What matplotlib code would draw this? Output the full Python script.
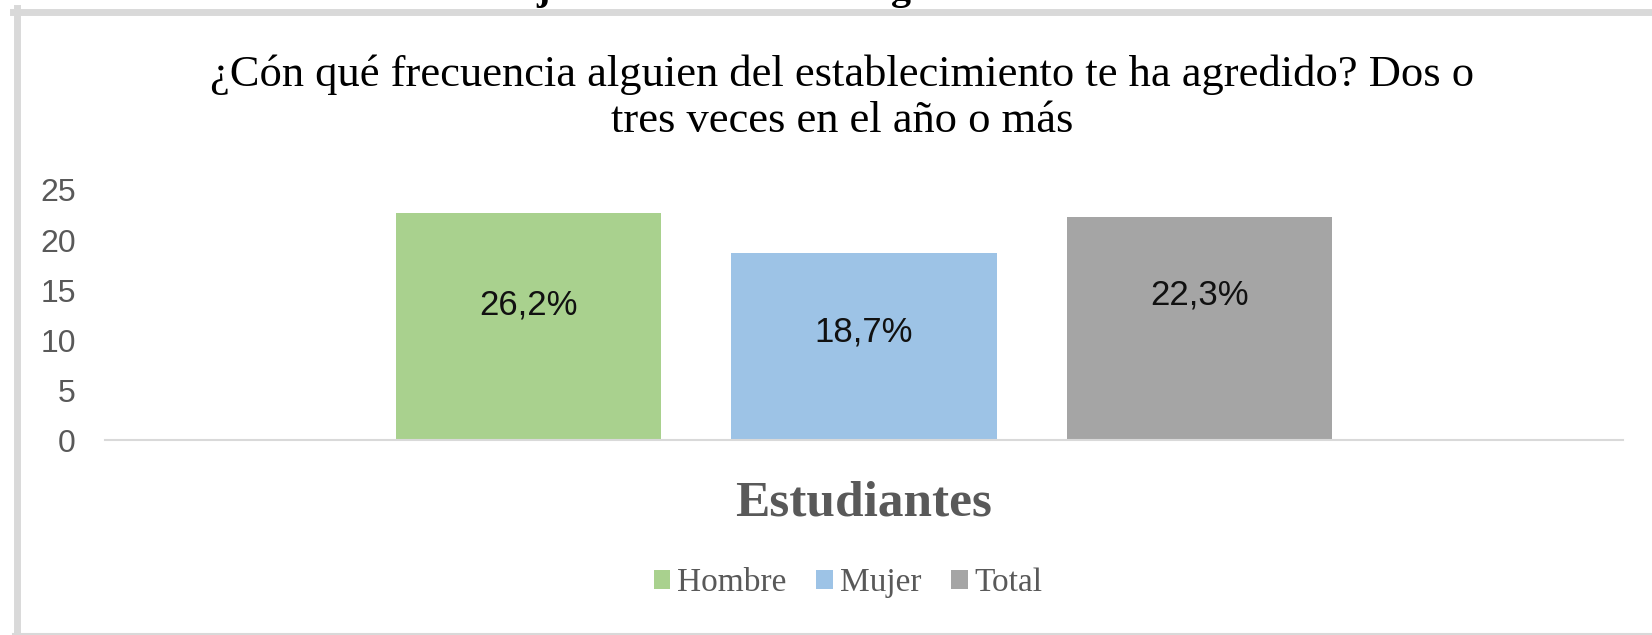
import matplotlib.pyplot as plt
from matplotlib.patches import Patch
from matplotlib.lines import Line2D

# data
categories = ['Hombre', 'Mujer', 'Total']
values = [22.7, 18.7, 22.3]
labels = ['26,2%', '18,7%', '22,3%']
colors = ['#a9d18e', '#9dc3e6', '#a5a5a5']
yticks = [0, 5, 10, 15, 20, 25]

# where the data labels sit (data units), as in the reference
label_y = [13.5, 10.8, 14.5]

W, H = 1652, 635
fig = plt.figure(figsize=(W / 100, H / 100), dpi=100)
fig.patch.set_facecolor('white')

# axes box in pixels: x 105..1623, y 190..440
ax = fig.add_axes([105 / W, 1 - 440 / H, (1623 - 105) / W, (440 - 190) / H])

x = list(range(len(categories)))
ax.bar(x, values, width=0.79, color=colors, zorder=2)

for xi, ly, lab in zip(x, label_y, labels):
    ax.text(xi, ly, lab, ha='center', va='center', fontsize=25,
            family=['Liberation Sans Narrow', 'Liberation Sans', 'DejaVu Sans'],
            color='#111111')

ax.set_xlim(-1.26, 3.26)
ax.set_ylim(0, 25)
ax.set_yticks(yticks)
ax.set_xticks([])
ax.tick_params(axis='y', length=0, pad=21, labelsize=23, labelcolor='#595959')
for t in ax.get_yticklabels():
    t.set_family('Liberation Sans')

for s in ['top', 'right', 'left']:
    ax.spines[s].set_visible(False)
ax.spines['bottom'].set_color('#d9d9d9')
ax.spines['bottom'].set_linewidth(1.5)

# title
fig.text(842 / W, 1 - 98 / H,
         '¿Cón qué frecuencia alguien del establecimiento te ha agredido? Dos o\ntres veces en el año o más',
         ha='center', va='center', fontsize=32, family='Liberation Serif',
         color='black', linespacing=1.2)

# axis title
fig.text(864 / W, 1 - 504 / H, 'Estudiantes', ha='center', va='center',
         fontsize=37, family='Liberation Serif', fontweight='bold', color='#595959')

# legend
handles = [Patch(facecolor=c, edgecolor='none') for c in colors]
leg = fig.legend(handles, categories, loc='center', bbox_to_anchor=(848 / W, 1 - 583 / H),
                 ncol=3, frameon=False, handlelength=0.5, handleheight=0.5,
                 handletextpad=0.2, columnspacing=0.9,
                 prop={'family': 'Liberation Serif', 'size': 24})
for t in leg.get_texts():
    t.set_color('#595959')

# chart frame (light gray), cropped on the right
fr = '#d9d9d9'
fig.add_artist(Line2D([13 / W, 1], [1 - 11.5 / H] * 2, transform=fig.transFigure,
                      color=fr, lw=5))
fig.add_artist(Line2D([16.5 / W] * 2, [0, 1 - 8 / H], transform=fig.transFigure,
                      color=fr, lw=5))
fig.add_artist(Line2D([13 / W, 1], [1 - 633.5 / H] * 2, transform=fig.transFigure,
                      color=fr, lw=1.5))

# descenders of the caption cut off above the chart
fig.text(543 / W, 1 + 1 / H, 'j', ha='center', va='baseline', fontsize=29,
         family='Liberation Serif', fontweight='bold', color='black')
fig.text(901 / W, 1 + 1 / H, 'g', ha='center', va='baseline', fontsize=29,
         family='Liberation Serif', fontweight='bold', color='black')

fig.savefig('out.png', dpi=100, facecolor='white')
